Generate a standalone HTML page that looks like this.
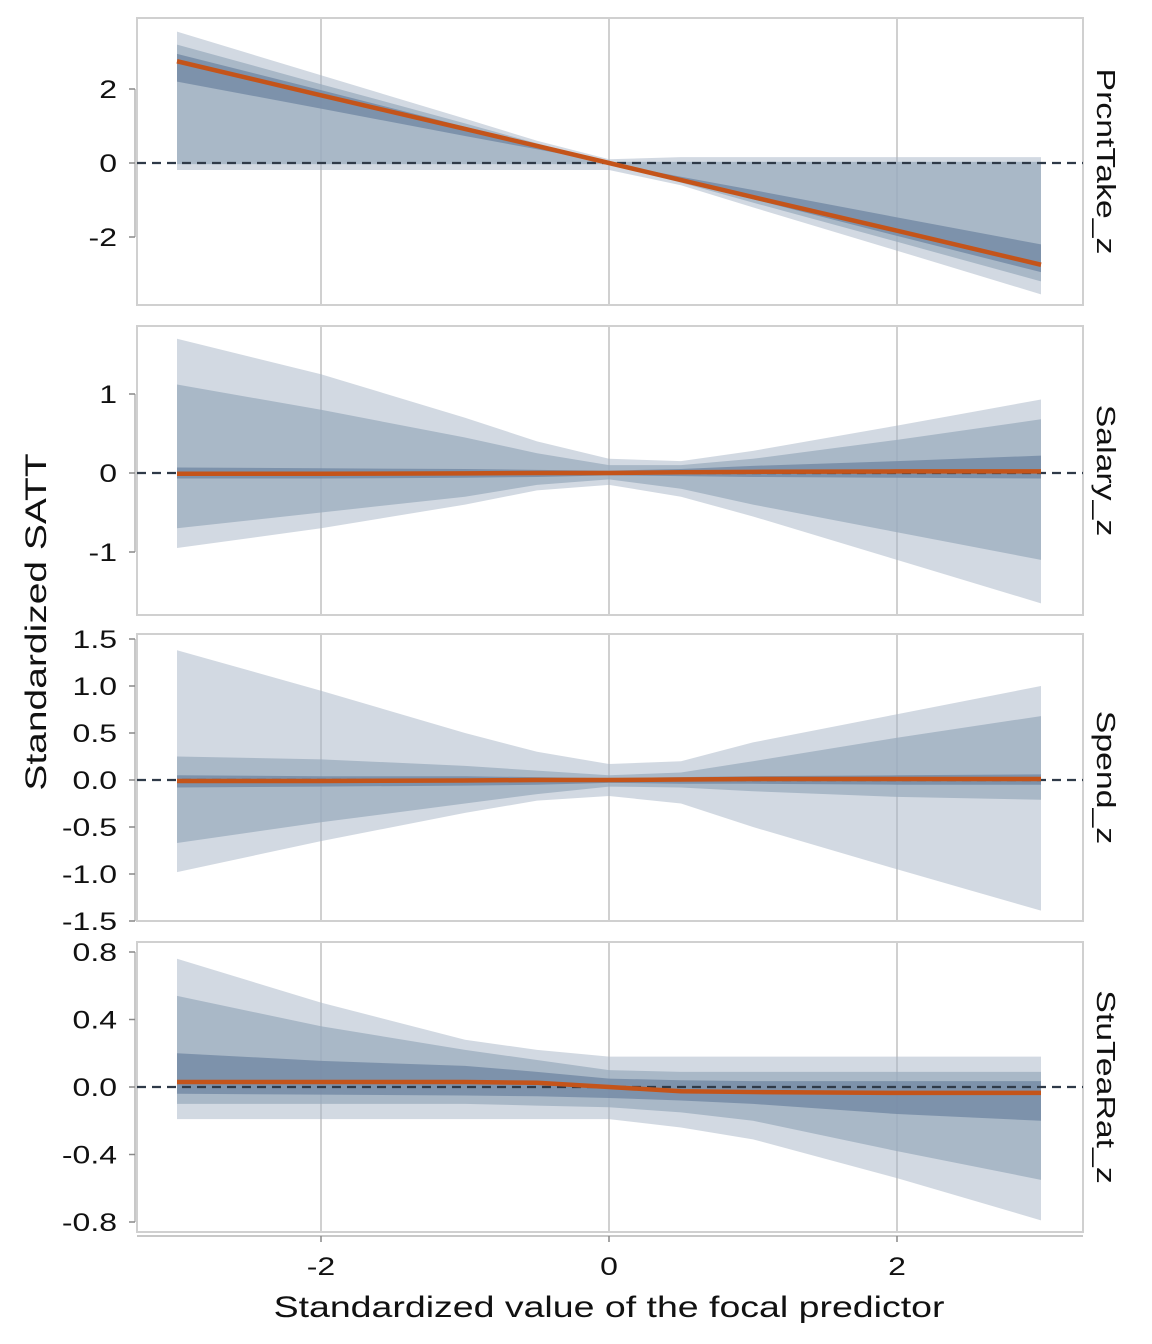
<!DOCTYPE html>
<html><head><meta charset="utf-8"><style>
body{margin:0;background:#fff;}
svg{display:block;font-family:"Liberation Sans",Arial,sans-serif;}
</style></head><body>
<svg id="chart" width="1152" height="1344" viewBox="0 0 1152 1344" xmlns="http://www.w3.org/2000/svg">
<text x="0" y="0" transform="translate(46,622) rotate(-90) scale(1.3,1)" text-anchor="middle" font-size="30" fill="#111">Standardized SATT</text>
<text x="0" y="0" transform="translate(609,1317) scale(1.25,1)" text-anchor="middle" font-size="30" fill="#111">Standardized value of the focal predictor</text>
</svg>
<script>
const xs = [-3,-2,-1,-0.5,0,0.5,1,2,3];
const xTicks = [-2,0,2];
const panelNames = ["PrcntTake_z","Salary_z","Spend_z","StuTeaRat_z"];
// PrcntTake_z
const p1OuterHi=[3.55,2.37,1.2,0.6,0.1,0.16,0.16,0.16,0.16];
const p1MidHi=[3.2,2.13,1.07,0.53,0.03,0.03,0.03,0.03,0.03];
const p1InHi=[2.95,1.97,0.98,0.49,0.0,-0.37,-0.73,-1.47,-2.2];
const p1Mean=[2.75,1.83,0.92,0.46,0,-0.46,-0.92,-1.83,-2.75];
const p1InLo=[2.2,1.47,0.73,0.37,0,-0.49,-0.98,-1.97,-2.95];
const p1MidLo=[-0.03,-0.03,-0.03,-0.03,-0.03,-0.53,-1.07,-2.13,-3.2];
const p1OuterLo=[-0.19,-0.19,-0.19,-0.19,-0.19,-0.6,-1.2,-2.37,-3.55];
const p1Ticks=[-2,0,2];
// Salary_z
const p2OuterHi=[1.7,1.25,0.7,0.4,0.18,0.15,0.28,0.6,0.93];
const p2MidHi=[1.12,0.8,0.45,0.25,0.1,0.1,0.18,0.42,0.68];
const p2InHi=[0.07,0.06,0.05,0.04,0.03,0.05,0.09,0.15,0.22];
const p2Mean=[-0.01,-0.01,-0.005,0,0,0.01,0.015,0.02,0.02];
const p2InLo=[-0.07,-0.07,-0.06,-0.05,-0.03,-0.04,-0.05,-0.06,-0.07];
const p2MidLo=[-0.7,-0.5,-0.3,-0.15,-0.08,-0.2,-0.4,-0.75,-1.1];
const p2OuterLo=[-0.95,-0.7,-0.4,-0.22,-0.15,-0.3,-0.55,-1.1,-1.65];
const p2Ticks=[-1,0,1];
// Spend_z
const p3OuterHi=[1.38,0.95,0.5,0.3,0.17,0.2,0.4,0.7,1.0];
const p3MidHi=[0.25,0.22,0.15,0.1,0.05,0.08,0.2,0.45,0.68];
const p3InHi=[0.05,0.04,0.04,0.03,0.02,0.03,0.04,0.05,0.06];
const p3Mean=[-0.01,-0.01,-0.005,0,0,0.005,0.01,0.01,0.01];
const p3InLo=[-0.08,-0.07,-0.06,-0.05,-0.03,-0.04,-0.04,-0.05,-0.05];
const p3MidLo=[-0.67,-0.45,-0.25,-0.15,-0.07,-0.08,-0.12,-0.18,-0.21];
const p3OuterLo=[-0.98,-0.65,-0.35,-0.22,-0.17,-0.25,-0.5,-0.95,-1.39];
const p3Ticks=[-1.5,-1.0,-0.5,0.0,0.5,1.0,1.5];
// StuTeaRat_z
const p4OuterHi=[0.76,0.5,0.28,0.22,0.18,0.18,0.18,0.18,0.18];
const p4MidHi=[0.54,0.36,0.22,0.16,0.1,0.09,0.09,0.09,0.09];
const p4InHi=[0.2,0.155,0.125,0.09,0.05,0.04,0.035,0.035,0.035];
const p4Mean=[0.03,0.03,0.03,0.025,0.0,-0.025,-0.03,-0.035,-0.035];
const p4InLo=[-0.04,-0.045,-0.05,-0.055,-0.065,-0.08,-0.1,-0.16,-0.2];
const p4MidLo=[-0.1,-0.1,-0.1,-0.11,-0.12,-0.15,-0.2,-0.38,-0.55];
const p4OuterLo=[-0.19,-0.19,-0.19,-0.19,-0.19,-0.24,-0.31,-0.54,-0.79];
const p4Ticks=[-0.8,-0.4,0.0,0.4,0.8];

const panels=[
 {top:18,bot:305,y0:163,ppu:37,ticks:p1Ticks,dec:0,oh:p1OuterHi,mh:p1MidHi,ih:p1InHi,m:p1Mean,il:p1InLo,ml:p1MidLo,ol:p1OuterLo},
 {top:326,bot:615,y0:473,ppu:79,ticks:p2Ticks,dec:0,oh:p2OuterHi,mh:p2MidHi,ih:p2InHi,m:p2Mean,il:p2InLo,ml:p2MidLo,ol:p2OuterLo},
 {top:634,bot:921,y0:780,ppu:94,ticks:p3Ticks,dec:1,oh:p3OuterHi,mh:p3MidHi,ih:p3InHi,m:p3Mean,il:p3InLo,ml:p3MidLo,ol:p3OuterLo},
 {top:942,bot:1232,y0:1087,ppu:168.75,ticks:p4Ticks,dec:1,oh:p4OuterHi,mh:p4MidHi,ih:p4InHi,m:p4Mean,il:p4InLo,ml:p4MidLo,ol:p4OuterLo}
];
const L=137,R=1083;
const sx=v=>609+v*144;
const NS="http://www.w3.org/2000/svg";
const svg=document.getElementById('chart');
function mk(tag,attrs,parent){const e=document.createElementNS(NS,tag);for(const k in attrs)e.setAttribute(k,attrs[k]);(parent||svg).appendChild(e);return e;}
function band(hi,lo,sy){let d='';xs.forEach((x,i)=>{d+=(i?'L':'M')+sx(x)+','+sy(hi[i]);});for(let i=xs.length-1;i>=0;i--)d+='L'+sx(xs[i])+','+sy(lo[i]);return d+'Z';}
panels.forEach((p,pi)=>{
 const sy=v=>p.y0-v*p.ppu;
 const g=mk('g',{});
 
 
 const bg=mk('rect',{x:L,y:p.top,width:R-L,height:p.bot-p.top,fill:'#fff',stroke:'#d0d0d0','stroke-width':2},g);
 
 
 xTicks.forEach(t=>{const gl=mk('line',{x1:sx(t),x2:sx(t),y1:p.top,y2:p.bot,stroke:'#d0d0d0','stroke-width':2},g);
  
  });
 const b1=mk('path',{d:band(p.oh,p.ol,sy),fill:'#a5b4c5','fill-opacity':0.5},g);
 
 
 const b2=mk('path',{d:band(p.mh,p.ml,sy),fill:'#97a9bc','fill-opacity':0.7},g);
 
 
 const b3=mk('path',{d:band(p.ih,p.il,sy),fill:'#6f86a1','fill-opacity':0.75},g);
 
 
 const zl=mk('line',{x1:L,x2:R,y1:sy(0),y2:sy(0),stroke:'#2f3a48','stroke-width':2.2,'stroke-dasharray':'9,6'},g);
 
 
 let d='';xs.forEach((x,i)=>{d+=(i?'L':'M')+sx(x)+','+sy(p.m[i]);});
 const ml=mk('path',{d:d,fill:'none',stroke:'#c4541a','stroke-width':4.5,'stroke-linejoin':'round'},g);
 
 
 const tmin=Math.min(...p.ticks),tmax=Math.max(...p.ticks);
 const ax=mk('line',{x1:135,x2:135,y1:sy(tmax),y2:sy(tmin),stroke:'#c8c8c8','stroke-width':2},g);
 
 
 p.ticks.forEach(t=>{
  const tk=mk('line',{x1:129,x2:135,y1:sy(t),y2:sy(t),stroke:'#888','stroke-width':1.5},g);
  
  
  const tl=mk('text',{x:0,y:0,transform:'translate(117,'+(sy(t)+9)+') scale(1.28,1)','text-anchor':'end','font-size':25,fill:'#111'},g);
  tl.textContent=t.toFixed(p.dec);
  
  
 });
 const st=mk('text',{transform:'translate(1097,'+((p.top+p.bot)/2)+') rotate(90) scale(1.3,1)','text-anchor':'middle','font-size':26,fill:'#111'},g);
 st.textContent=panelNames[pi];
 
 
});
const xa=mk('line',{x1:L,x2:R,y1:1236,y2:1236,stroke:'#c8c8c8','stroke-width':2});


xTicks.forEach(t=>{
 const tk=mk('line',{x1:sx(t),x2:sx(t),y1:1236,y2:1242,stroke:'#888','stroke-width':1.5});
 
 
 const tl=mk('text',{x:0,y:0,transform:'translate('+sx(t)+',1275) scale(1.28,1)','text-anchor':'middle','font-size':25,fill:'#111'});
 tl.textContent=String(t);
 
 
});
</script>
</body></html>
